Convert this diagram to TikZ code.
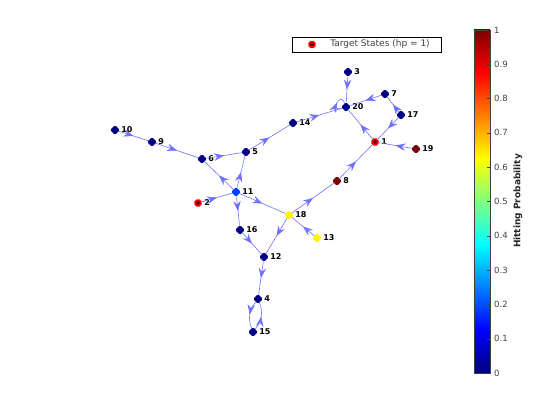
\documentclass[tikz,border=0pt]{standalone}
\usepackage{fontspec}
\setmainfont{DejaVu Sans}
\usetikzlibrary{arrows.meta, decorations.markings, positioning, shapes.geometric}

\definecolor{edgeblue}{RGB}{112,112,255}
\definecolor{hpzero}{RGB}{0,0,132}
\definecolor{hplow}{RGB}{0,64,255}
\definecolor{hpmid}{RGB}{255,245,0}
\definecolor{hpone}{RGB}{128,0,0}
\definecolor{axisgray}{RGB}{64,64,64}

% jet colour map, 0 at the bottom
\pgfdeclareverticalshading{jet}{100bp}{rgb(0bp)=(0,0,0.5); rgb(25bp)=(0,0,0.5); rgb(31.25bp)=(0,0,1); rgb(43.75bp)=(0,1,1); rgb(56.25bp)=(1,1,0); rgb(68.75bp)=(1,0,0); rgb(75bp)=(0.5,0,0); rgb(100bp)=(0.5,0,0)}

\begin{document}
\begin{tikzpicture}[
        x = 1pt, y = -1pt,
        st/.style = {diamond, rounded corners = 1.6pt, fill = #1, inner sep = 0pt, minimum size = 10pt},
        target/.style = {diamond, rounded corners = 1.4pt, fill = hpone, draw = red, line width = 1.6pt, inner sep = 0pt, minimum size = 8.5pt},
        num/.style = {font = \bfseries\fontsize{8}{9}\selectfont, inner sep = 1pt},
        every label/.style = {num},
        label distance = 0pt,
        flow/.style = {draw = edgeblue, line width = 0.6pt, postaction = {decorate},
            decoration = {markings, mark = at position 0.5 with
            {\arrow[edgeblue]{Stealth[length = 10pt, width = 7.5pt, inset = 3.5pt]}}}},
        tick/.style = {font = \fontsize{8.5}{9}\selectfont, text = axisgray, inner sep = 0pt, anchor = west}
    ]

      \useasboundingbox (0,0) rectangle (560,420);

      % states
      \node[st = hpzero, label = {right:10}] (n10) at (115,130) {};
      \node[st = hpzero, label = {right:9}]  (n9)  at (152,142) {};
      \node[st = hpzero, label = {right:6}]  (n6)  at (202,159) {};
      \node[st = hpzero, label = {right:5}]  (n5)  at (246,152) {};
      \node[st = hpzero, label = {right:14}] (n14) at (293,123) {};
      \node[st = hpzero, label = {right:3}]  (n3)  at (348,72)  {};
      \node[st = hpzero, label = {right:20}] (n20) at (346,107) {};
      \node[st = hpzero, label = {right:7}]  (n7)  at (385,94)  {};
      \node[st = hpzero, label = {right:17}] (n17) at (401,115) {};
      \node[target,      label = {right:1}]  (n1)  at (375,142) {};
      \node[st = hpone,  label = {right:19}] (n19) at (416,149) {};
      \node[st = hpone,  label = {right:8}]  (n8)  at (337,181) {};
      \node[st = hplow,  label = {right:11}] (n11) at (236,192) {};
      \node[target,      label = {right:2}]  (n2)  at (198,203) {};
      \node[st = hpmid,  label = {right:18}] (n18) at (289,215) {};
      \node[st = hpzero, label = {right:16}] (n16) at (240,230) {};
      \node[st = hpmid,  label = {right:13}] (n13) at (317,238) {};
      \node[st = hpzero, label = {right:12}] (n12) at (264,257) {};
      \node[st = hpzero, label = {right:4}]  (n4)  at (258,299) {};
      \node[st = hpzero, label = {right:15}] (n15) at (253,332) {};

      % transitions
      \path
            (n10) edge [flow] (n9)
            (n9)  edge [flow] (n6)
            (n6)  edge [flow] (n5)
            (n5)  edge [flow] (n14)
            (n14) edge [flow] (n20)
            (n3)  edge [flow] (n20)
            (n7)  edge [flow] (n20)
            (n17) edge [flow] (n7)
            (n17) edge [flow] (n1)
            (n1)  edge [flow] (n20)
            (n19) edge [flow] (n1)
            (n8)  edge [flow] (n1)
            (n18) edge [flow] (n8)
            (n13) edge [flow] (n18)
            (n18) edge [flow] (n12)
            (n11) edge [flow] (n18)
            (n11) edge [flow] (n16)
            (n11) edge [flow] (n6)
            (n11) edge [flow] (n5)
            (n2)  edge [flow] (n11)
            (n16) edge [flow] (n12)
            (n12) edge [flow] (n4)
            (n4)  edge [flow, bend right = 30] (n15)
            (n15) edge [flow, bend right = 30] (n4)
            (n20) edge [flow, loop, out = 200, in = 110, min distance = 12pt, looseness = 6] (n20);

      % legend
      \draw[line width = 0.5pt, fill = white] (292,37) rectangle (441,52);
      \node[target] (legmark) at (312,44.5) {};
      \node[right = 13pt of legmark, inner sep = 0pt, text = axisgray,
            font = \fontsize{9}{10}\selectfont] (legtext) {Target States (hp = 1)};

      % colour bar
      \shade[shading = jet] (474,30) rectangle (490,373);
      \draw[axisgray, line width = 0.5pt] (474,30) rectangle (490,373);
      \foreach \v/\t in {0/0, 1/0.1, 2/0.2, 3/0.3, 4/0.4, 5/0.5, 6/0.6, 7/0.7, 8/0.8, 9/0.9, 10/1} {
            \draw[axisgray, line width = 0.4pt] (490,373-34.3*\v) -- ++(-3,0);
            \node[tick] (tick\v) at (494,373-34.3*\v) {\t};
      }
      \node[rotate = 90, font = \bfseries\fontsize{9}{10}\selectfont, text = black!85] (cblabel) at (518,201) {Hitting Probability};

    \end{tikzpicture}
\end{document}
